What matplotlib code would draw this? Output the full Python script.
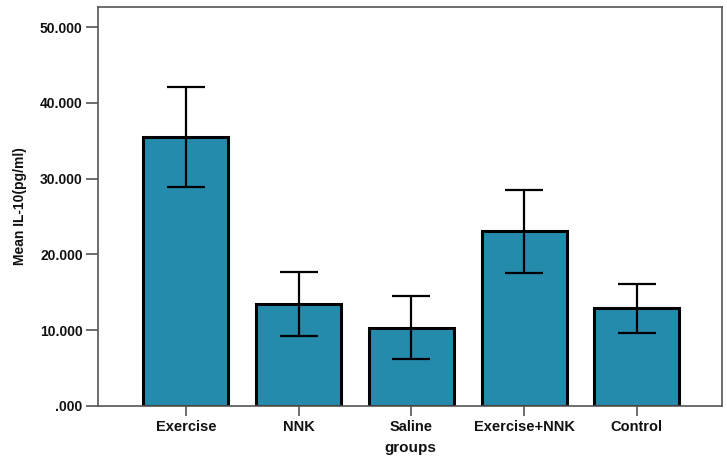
import matplotlib
matplotlib.use("Agg")
import matplotlib.pyplot as plt
from matplotlib.ticker import FuncFormatter

groups = ["Exercise", "NNK", "Saline", "Exercise+NNK", "Control"]
means = [35.5, 13.45, 10.35, 23.05, 12.9]
upper = [42.1, 17.65, 14.5, 28.5, 16.1]
lower = [28.85, 9.3, 6.25, 17.5, 9.6]

plt.rcParams['font.family'] = ['Liberation Sans', 'DejaVu Sans']

fig = plt.figure(figsize=(7.27, 4.57), dpi=100)
ax = fig.add_axes([0.1348, 0.1116, 0.8582, 0.8731])

x = list(range(len(groups)))
yerr = [[m - l for m, l in zip(means, lower)], [u - m for m, u in zip(means, upper)]]
ax.bar(x, means, width=0.755, color='#248BAD', edgecolor='black', linewidth=2.2, zorder=2)
ax.errorbar(x, means, yerr=yerr, fmt='none', ecolor='black', elinewidth=1.6,
            capsize=13.5, capthick=1.6, zorder=3)

ax.set_xlim(-0.78, 4.755)
ax.set_ylim(0, 52.65)
ax.set_yticks([0, 10, 20, 30, 40, 50])
ax.yaxis.set_major_formatter(FuncFormatter(lambda v, p: ('%.3f' % v).lstrip('0') if v == 0 else '%.3f' % v))
ax.set_xticks(x)
ax.set_xticklabels(groups)

for s in ax.spines.values():
    s.set_color('#555555')
    s.set_linewidth(1.2)
ax.tick_params(axis='y', length=9, width=1.2, color='#555555', labelsize=10, pad=2)
ax.tick_params(axis='x', length=7, width=1.2, color='#555555', labelsize=10.5, pad=3)
for lab in ax.get_xticklabels() + ax.get_yticklabels():
    lab.set_fontweight('bold')
    lab.set_color('#111111')

ax.set_xlabel('groups', fontsize=11, fontweight='bold', color='#111111', va='center')
ax.xaxis.set_label_coords(0.5, -0.105)
ax.set_ylabel('Mean IL-10(pg/ml)', fontsize=10, fontweight='bold', labelpad=9, color='#111111')

fig.savefig('out.png', dpi=100)
